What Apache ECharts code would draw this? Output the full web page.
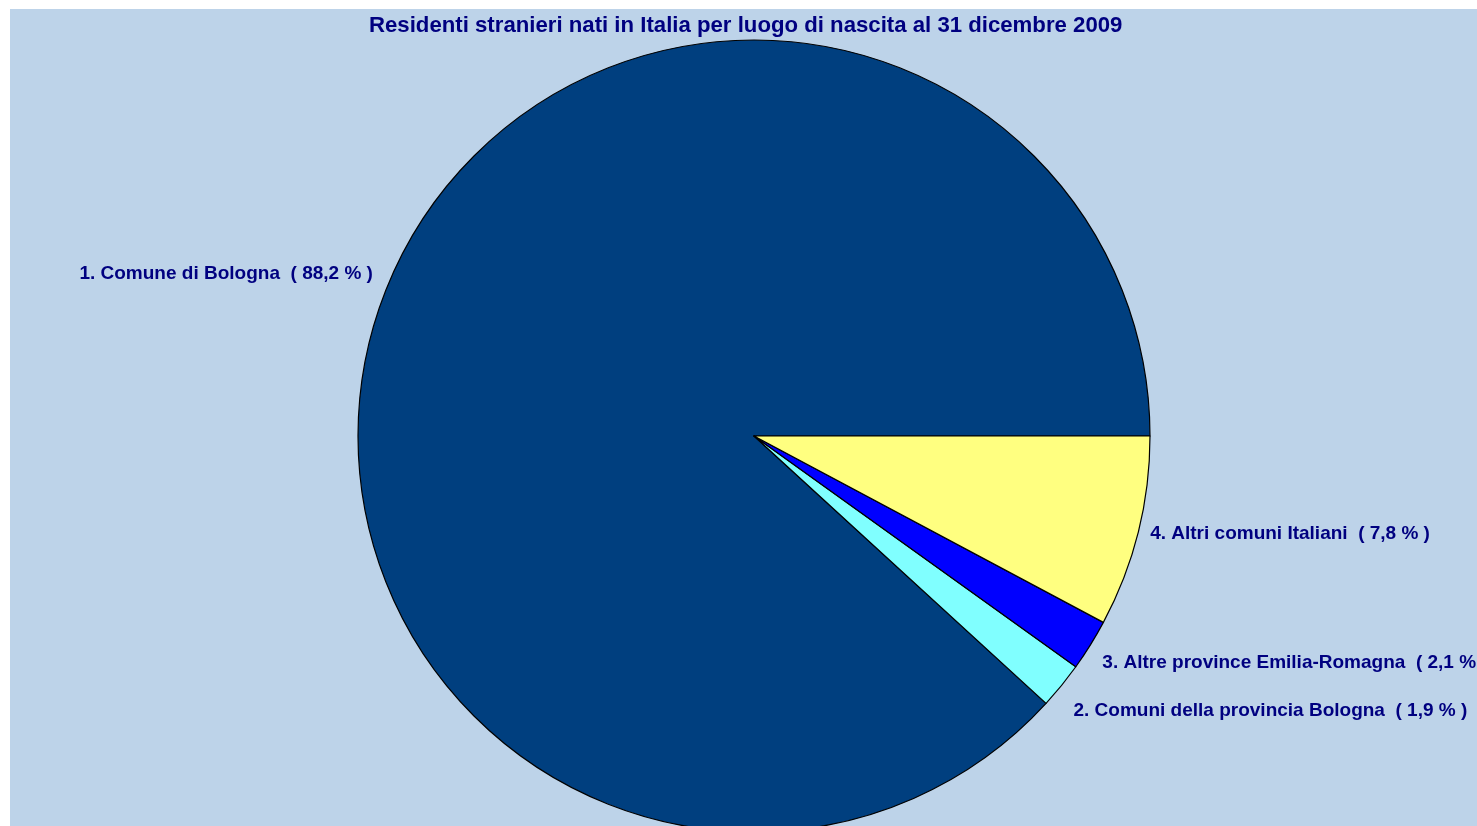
<!DOCTYPE html>
<html>
<head>
<meta charset="utf-8">
<script src="https://cdn.jsdelivr.net/npm/echarts@6/dist/echarts.min.js"></script>
<style>
html,body{margin:0;padding:0;background:#fff;}
#chart{width:1477px;height:826px;}
</style>
</head>
<body>
<div id="chart"></div>
<script>
const titleText = 'Residenti stranieri nati in Italia per luogo di nascita al 31 dicembre 2009';
const categories = ['1. Comune di Bologna', '2. Comuni della provincia Bologna', '3. Altre province Emilia-Romagna', '4. Altri comuni Italiani'];
const percentages = [88.2, 1.9, 2.1, 7.8];
const sliceColors = ['#003F7F', '#80FFFF', '#0000FF', '#FFFF80'];
// vertical nudges of labels (Excel-like placement)
const labelNudgeY = [-19, 25, 18, 2];

const chart = echarts.init(document.getElementById('chart'));
const option = {
  backgroundColor: '#ffffff',
  animation: false,
  graphic: [{
    type: 'rect', z: -10,
    shape: {x: 10, y: 9, width: 1467, height: 817},
    style: {fill: '#BDD3E9'}
  }],
  title: {
    text: titleText,
    left: 369, top: 15, padding: 0,
    textStyle: {fontFamily: 'Liberation Sans', fontWeight: 'bold', fontSize: 22.2, color: '#000080'}
  },
  series: [{
    type: 'pie',
    center: [754, 436],
    radius: 396,
    startAngle: 0,
    clockwise: false,
    avoidLabelOverlap: false,
    itemStyle: {borderColor: '#000000', borderWidth: 1.2},
    emphasis: {disabled: true},
    label: {
      show: true,
      position: 'outside',
      distanceToLabelLine: 12,
      overflow: 'none',
      fontFamily: 'Liberation Sans', fontWeight: 'bold', fontSize: 19, color: '#000080',
      formatter: p => p.name + '  ( ' + String(p.value).replace('.', ',') + ' % )'
    },
    labelLine: {show: false, length: 0, length2: 0},
    labelLayout: p => ({dy: labelNudgeY[p.dataIndex]}),
    data: categories.map((c, i) => ({name: c, value: percentages[i], itemStyle: {color: sliceColors[i]}}))
  }]
};
chart.setOption(option);
</script>
</body>
</html>
